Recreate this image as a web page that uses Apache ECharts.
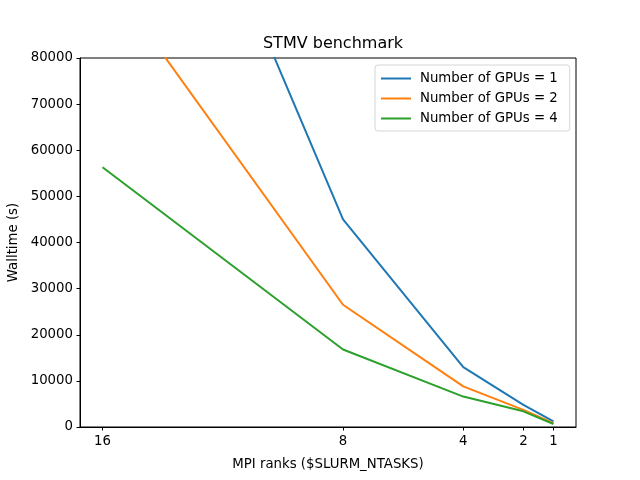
<!DOCTYPE html>
<html>
<head>
<meta charset="utf-8">
<script src="https://cdn.jsdelivr.net/npm/echarts@6/dist/echarts.min.js"></script>
<style>html,body{margin:0;padding:0;background:#fff;}#c{width:640px;height:480px;}</style>
</head>
<body>
<div id="c"></div>
<script>
const ranks = [16, 8, 4, 2, 1];
const tickValues = [1, 2, 4, 8, 16];
const gpus1 = [168000, 45000, 13000, 4800, 1200];
const gpus2 = [99000, 26500, 8800, 3700, 850];
const gpus4 = [56300, 16800, 6600, 3400, 650];
const seriesNames = ['Number of GPUs = 1', 'Number of GPUs = 2', 'Number of GPUs = 4'];
const colors = ['#1f77b4', '#ff7f0e', '#2ca02c'];

const font = 'DejaVu Sans';
const chart = echarts.init(document.getElementById('c'), null, {renderer: 'canvas'});
function pairs(vals) { return ranks.map((r, i) => [r, vals[i]]); }
const allVals = [gpus1, gpus2, gpus4];
chart.setOption({
  animation: false,
  backgroundColor: '#fff',
  textStyle: {fontFamily: font},
  title: {
    text: 'STMV benchmark', left: 328, top: 31, textAlign: 'center',
    textStyle: {fontFamily: font, fontSize: 16, fontWeight: 'normal', color: '#000'}
  },
  legend: {
    left: 375, top: 65, orient: 'vertical',
    padding: [7, 12, 6, 5],
    itemWidth: 30, itemHeight: 14, itemGap: 7,
    borderColor: '#d6d6d6', borderWidth: 1, borderRadius: 3,
    backgroundColor: 'rgba(255,255,255,0.8)',
    itemStyle: {opacity: 0},
    textStyle: {fontFamily: font, fontSize: 13.3, color: '#000', padding: [0, 0, 0, 4]},
    data: seriesNames
  },
  grid: {left: 80, right: 64, top: 58, bottom: 53, outerBoundsMode: 'none', containLabel: false,
    show: true, borderColor: '#000', borderWidth: 1, backgroundColor: 'transparent'},
  xAxis: {
    type: 'value', inverse: true, min: 0.25, max: 16.75,
    name: 'MPI ranks ($SLURM_NTASKS)', nameLocation: 'middle', nameGap: 31,
    nameTextStyle: {fontFamily: font, fontSize: 13.3, color: '#000'},
    axisLine: {show: true, onZero: false, lineStyle: {color: '#000', width: 1}},
    axisTick: {show: true, length: 3.5, lineStyle: {color: '#000'}, customValues: tickValues},
    axisLabel: {fontFamily: font, fontSize: 13.3, color: '#000', margin: 8, customValues: tickValues},
    splitLine: {show: false}
  },
  yAxis: {
    type: 'value', min: 0, max: 80000, interval: 10000,
    name: 'Walltime (s)', nameLocation: 'middle', nameGap: 60,
    nameTextStyle: {fontFamily: font, fontSize: 13.3, color: '#000'},
    axisLine: {show: true, lineStyle: {color: '#000', width: 1}},
    axisTick: {show: true, length: 3.5, lineStyle: {color: '#000'}},
    axisLabel: {fontFamily: font, fontSize: 13.3, color: '#000', margin: 7, formatter: v => String(v)},
    splitLine: {show: false}
  },
  series: seriesNames.map((n, i) => ({
    name: n, type: 'line', data: pairs(allVals[i]), symbol: 'none', clip: true,
    lineStyle: {color: colors[i], width: 2}, itemStyle: {color: colors[i]}
  }))
});
</script>
</body>
</html>
